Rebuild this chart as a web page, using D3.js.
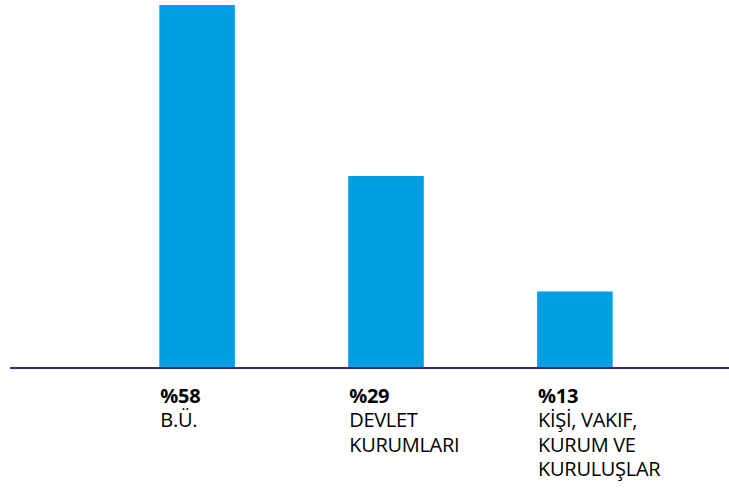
<!DOCTYPE html>
<html>
<head>
<meta charset="utf-8">
<script src="https://cdn.jsdelivr.net/npm/d3@7"></script>
<style>
  html, body { margin: 0; padding: 0; background: #fff; }
  svg { display: block; }
</style>
</head>
<body>
<svg id="chart" width="729" height="488"></svg>
<script>
const BAR_COLOR = "#009fe3";
const AXIS_COLOR = "#34298a";
const FONT = "'Open Sans', 'Noto Sans', sans-serif";

// data
const categories = ["bu", "devlet", "kisi"];
const percentLabels = [58, 29, 13];
// bar heights as drawn in the picture (in % units)
const barValues = [58, 30.6, 12.1];
const nameLines = [
  ["B.Ü."],
  ["DEVLET", "KURUMLARI"],
  ["KİŞİ, VAKIF,", "KURUM VE", "KURULUŞLAR"],
];

const svg = d3.select("#chart");

const x = d3
  .scaleBand()
  .domain(categories)
  .range([46, 726])
  .paddingInner(0.6)
  .paddingOuter(0.6);

const y = d3.scaleLinear().domain([0, 58]).range([367, 5]);

// bars
svg
  .selectAll(".bar")
  .data(categories)
  .enter()
  .append("rect")
  .attr("class", "bar")
  .attr("x", (d) => x(d))
  .attr("y", (d, i) => y(barValues[i]))
  .attr("width", x.bandwidth())
  .attr("height", (d, i) => y(0) - y(barValues[i]))
  .attr("fill", BAR_COLOR);

// baseline
svg
  .append("line")
  .attr("x1", 10)
  .attr("x2", 729)
  .attr("y1", y(0) + 1)
  .attr("y2", y(0) + 1)
  .attr("stroke", AXIS_COLOR)
  .attr("stroke-width", 2);

// labels
const labels = svg
  .selectAll(".label")
  .data(categories)
  .enter()
  .append("text")
  .attr("class", "label")
  .attr("font-family", FONT)
  .attr("font-size", "20px")
  .attr("letter-spacing", "-0.3px")
  .attr("fill", "#000");

labels
  .append("tspan")
  .attr("x", (d) => x(d) + 1)
  .attr("y", 403)
  .attr("font-weight", "bold")
  .text((d, i) => `%${percentLabels[i]}`);

labels.each(function (d, i) {
  const t = d3.select(this);
  nameLines[i].forEach((line, j) => {
    t.append("tspan")
      .attr("x", x(d) + 1)
      .attr("y", 427 + j * 24.5)
      .text(line);
  });
});
</script>
</body>
</html>
